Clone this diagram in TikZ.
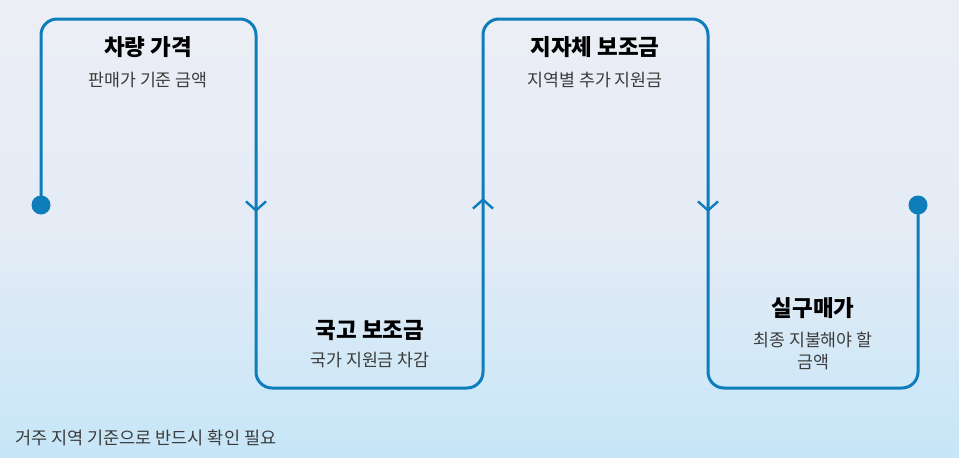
\documentclass[tikz,border=0pt]{standalone}
\usepackage{fontspec}
\setmainfont{Noto Sans CJK KR}
\usetikzlibrary{arrows.meta}
\definecolor{flowblue}{RGB}{14,125,187}
\definecolor{bgtop}{RGB}{236,238,245}
\definecolor{bgmid}{RGB}{229,236,246}
\definecolor{bgbot}{RGB}{198,230,247}
\definecolor{subgray}{RGB}{60,60,60}
\begin{document}
\begin{tikzpicture}[x=1pt,y=-1pt,
  flow/.style={draw=flowblue,line width=3pt,rounded corners=16pt},
  dotnode/.style={circle,fill=flowblue,inner sep=0pt,minimum size=19pt},
  midarrow/.style={draw=flowblue,line width=2.4pt,-{Straight Barb[length=9pt,width=20pt]}},
  title/.style={font=\bfseries\fontsize{22.5}{27}\selectfont,text=black,inner sep=0pt},
  sub/.style={font=\fontsize{17.3}{22}\selectfont,text=subgray,inner sep=0pt,align=center},
  foot/.style={font=\fontsize{17.5}{20}\selectfont,text=subgray,inner sep=0pt,anchor=west}]
\shade[top color=bgtop,bottom color=bgbot,middle color=bgmid] (0,0) rectangle (959,458);
\useasboundingbox (0,0) rectangle (959,458);
% path coordinates
\coordinate (c1) at (41,19);
\coordinate (c2) at (256,19);
\coordinate (c3) at (256,388);
\coordinate (c4) at (483,388);
\coordinate (c5) at (483,19);
\coordinate (c6) at (708,19);
\coordinate (c7) at (708,388);
\coordinate (c8) at (918,388);
\node[dotnode] (d1) at (41,205) {};
\node[dotnode] (d2) at (918,205) {};
\draw[flow] (d1.center) -- (c1) -- (c2) -- (c3) -- (c4) -- (c5) -- (c6) -- (c7) -- (c8) -- (d2.center);
% direction arrows
\coordinate (a1s) at (256,195); \coordinate (a1e) at (256,212);
\coordinate (a2s) at (483,215); \coordinate (a2e) at (483,198);
\coordinate (a3s) at (708,195); \coordinate (a3e) at (708,212);
\draw[midarrow] (a1s) -- (a1e);
\draw[midarrow] (a2s) -- (a2e);
\draw[midarrow] (a3s) -- (a3e);
% labels
\node[title] (t1) at (148,47) {차량 가격};
\node[sub] (s1) at (148,80) {판매가 기준 금액};
\node[title] (t2) at (370,330) {국고 보조금};
\node[sub] (s2) at (370,360) {국가 지원금 차감};
\node[title] (t3) at (595,47) {지자체 보조금};
\node[sub] (s3) at (595,80) {지역별 추가 지원금};
\node[title] (t4) at (813,308) {실구매가};
\node[sub] (s4) at (813,351) {최종 지불해야 할\\금액};
\node[foot] (f) at (15,438) {거주 지역 기준으로 반드시 확인 필요};
\end{tikzpicture}
\end{document}
